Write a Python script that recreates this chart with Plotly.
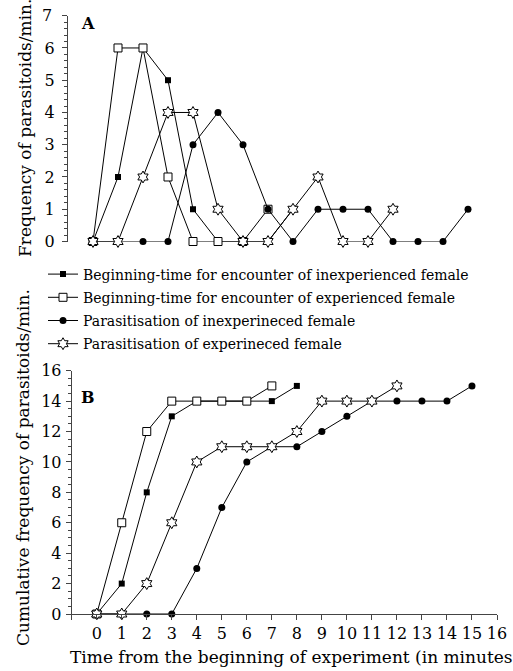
import plotly.graph_objects as go

# ---- data ----
minutes = list(range(0, 16))
names = [
    "Beginning-time for encounter of inexperienced female",
    "Beginning-time for encounter of experienced female",
    "Parasitisation of inexperineced female",
    "Parasitisation of experineced female",
]
# Panel A: frequency per minute
freq_enc_inexp = [0, 2, 6, 5, 1, 0, 0, 0, 1]
freq_enc_exp = [0, 6, 6, 2, 0, 0, 0, 1]
freq_par_inexp = [0, 0, 0, 0, 3, 4, 3, 1, 0, 1, 1, 1, 0, 0, 0, 1]
freq_par_exp = [0, 0, 2, 4, 4, 1, 0, 0, 1, 2, 0, 0, 1]
# Panel B: cumulative frequency
cum_enc_inexp = [0, 2, 8, 13, 14, 14, 14, 14, 15]
cum_enc_exp = [0, 6, 12, 14, 14, 14, 14, 15]
cum_par_inexp = [0, 0, 0, 0, 3, 7, 10, 11, 11, 12, 13, 14, 14, 14, 14, 15]
cum_par_exp = [0, 0, 2, 6, 10, 11, 11, 11, 12, 14, 14, 14, 15]

x_ticks = list(range(-1, 17))
x_ticktext = [""] + [str(v) for v in range(0, 17)]
ya_ticks = list(range(0, 8))
ya_ticktext = [str(v) for v in ya_ticks[:-1]] + [""]  # top label drawn as text below
yb_ticks = list(range(0, 17, 2))

W, H = 513, 671
FONT = "DejaVu Serif"


def px(x):
    return x / W


def py(y):
    return 1 - y / H


markers = [
    dict(symbol="square", size=6, color="black"),
    dict(symbol="square", size=8, color="white", line=dict(color="black", width=1)),
    dict(symbol="circle", size=7, color="black"),
    dict(symbol="hexagram", size=9, color="white", line=dict(color="black", width=1)),
]
freqs = [freq_enc_inexp, freq_enc_exp, freq_par_inexp, freq_par_exp]
cums = [cum_enc_inexp, cum_enc_exp, cum_par_inexp, cum_par_exp]

fig = go.Figure()
for i in range(4):
    fig.add_trace(go.Scatter(
        x=minutes[:len(freqs[i])], y=freqs[i], mode="lines+markers",
        name=names[i], legendgroup=str(i), marker=markers[i],
        line=dict(color="black", width=1), cliponaxis=False,
        xaxis="x", yaxis="y"))
for i in range(4):
    fig.add_trace(go.Scatter(
        x=minutes[:len(cums[i])], y=cums[i], mode="lines+markers",
        name=names[i], legendgroup=str(i), showlegend=False, marker=markers[i],
        line=dict(color="black", width=1), cliponaxis=False,
        xaxis="x2", yaxis="y2"))

axcol = "#444"
fig.update_layout(
    width=W, height=H,
    margin=dict(l=0, r=0, t=0, b=0, autoexpand=False),
    paper_bgcolor="white", plot_bgcolor="white",
    font=dict(family=FONT, color="black", size=16),
    xaxis=dict(domain=[px(68), px(493)], range=[-1, 16], visible=False,
               anchor="y"),
    yaxis=dict(domain=[py(241.5), py(15.7)], range=[0, 7],
               anchor="x", showgrid=False, zeroline=False, automargin=False,
               showline=True, linecolor=axcol, linewidth=1,
               ticks="outside", ticklen=5, tickcolor=axcol,
               tickmode="array", tickvals=ya_ticks, ticktext=ya_ticktext,
               ticklabelstandoff=4, ticklabeloverflow="allow",
               minor=dict(dtick=0.2, tick0=0, ticks="outside", ticklen=3,
                          tickcolor=axcol),
               tickfont=dict(size=16)),
    xaxis2=dict(domain=[px(71.7), px(497)], range=[-1, 16], anchor="y2",
                showgrid=False, zeroline=False, showline=True, automargin=False,
                linecolor=axcol, linewidth=1, ticks="outside", ticklen=5,
                tickcolor=axcol, tickmode="array", tickvals=x_ticks,
                ticktext=x_ticktext, tickfont=dict(size=16),
                ticklabeloverflow="allow"),
    yaxis2=dict(domain=[py(614), py(370.7)], range=[0, 16],
                anchor="x2", showgrid=False, zeroline=False, showline=True,
                automargin=False, ticklabeloverflow="allow",
                linecolor=axcol, linewidth=1, ticks="outside", ticklen=5,
                tickcolor=axcol, tickmode="array", tickvals=yb_ticks,
                ticklabelstandoff=1,
                minor=dict(dtick=0.5, tick0=0, ticks="outside", ticklen=3,
                           tickcolor=axcol),
                tickfont=dict(size=16)),
    legend=dict(x=px(43), xanchor="left", y=py(258.5), yanchor="top",
                font=dict(size=14, family=FONT), bgcolor="rgba(0,0,0,0)",
                tracegroupgap=2),
    showlegend=True,
)

# top tick label of panel A, placed on the axis scale
fig.add_annotation(text=str(ya_ticks[-1]), x=px(54), y=ya_ticks[-1], xref="paper", yref="y",
                   showarrow=False, font=dict(size=16, family=FONT),
                   xanchor="right", yanchor="middle")
fig.add_annotation(text="<b>A</b>", x=px(88), y=py(24), xref="paper", yref="paper",
                   showarrow=False, font=dict(size=16, family=FONT),
                   xanchor="center", yanchor="middle")
fig.add_annotation(text="<b>B</b>", x=px(88), y=py(397), xref="paper", yref="paper",
                   showarrow=False, font=dict(size=16, family=FONT),
                   xanchor="center", yanchor="middle")
fig.add_annotation(text="Frequency of parasitoids/min.", x=px(25), y=py(128),
                   xref="paper", yref="paper", showarrow=False, textangle=-90,
                   font=dict(size=17, family=FONT), xanchor="center", yanchor="middle")
fig.add_annotation(text="Cumulative frequency of parasitoids/min.", x=px(23), y=py(468),
                   xref="paper", yref="paper", showarrow=False, textangle=-90,
                   font=dict(size=17, family=FONT), xanchor="center", yanchor="middle")
fig.add_annotation(text="Time from the beginning of experiment (in minutes)", x=px(68),
                   y=py(657), xref="paper", yref="paper", showarrow=False,
                   font=dict(size=17, family=FONT), xanchor="left", yanchor="middle")

post = (
    "document.body.style.margin='0';"
    "document.body.style.overflow='hidden';"
)
fig.write_html("out.html", config={"displayModeBar": False}, post_script=post)
